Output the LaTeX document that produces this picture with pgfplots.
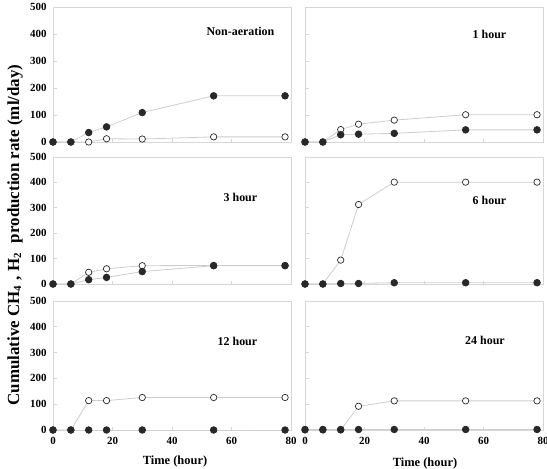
\documentclass[border=0pt]{standalone}
\usepackage{fontspec}
\setmainfont{Liberation Serif}
\usepackage{pgfplots}
\pgfplotsset{compat=1.18}

\definecolor{linegray}{RGB}{205,205,205}
\definecolor{framegray}{RGB}{215,215,215}
\definecolor{markdark}{RGB}{40,40,40}

\pgfplotsset{
  panel/.style={
    scale only axis,
    width=238bp,
    xmin=0, xmax=80, ymin=0, ymax=500,
    xtick={0,20,40,60,80},
    ytick={0,100,200,300,400,500},
    axis line style={framegray, line width=0.8bp},
    tick style={framegray, line width=0.8bp},
    tick align=inside,
    major tick length=3.5bp,
    xtick pos=bottom, ytick pos=left,
    clip=false,
    /pgf/number format/assume math mode=true,
    tick label style={font=\fontsize{11}{12}\selectfont\bfseries, black},
    yticklabel style={xshift=-3bp},
    xticklabel style={yshift=-4bp},
    xticklabels={}, yticklabels={},
  },
  ylabels/.style={yticklabels={0,100,200,300,400,500}},
  xlabels/.style={xticklabels={0,20,40,60,80}},
  openser/.style={color=linegray, line width=0.8bp, mark=*, mark size=3.2bp,
    mark options={draw=markdark, fill=white, line width=0.7bp}},
  fillser/.style={color=linegray, line width=0.8bp, mark=*, mark size=3.3bp,
    mark options={draw=markdark, fill=markdark}},
}
\newcommand{\paneltitle}[3]{\node[font=\fontsize{12}{14}\selectfont\bfseries] at (axis cs:#1,#2) {#3};}

\begin{document}
\begin{tikzpicture}
\useasboundingbox (0bp,0bp) rectangle (547bp,-469bp);

% Non-aeration
\begin{axis}[panel, ylabels, height=135bp, at={(53bp,-142bp)}, anchor=south west]
\addplot[openser] coordinates {(0,0) (6,0) (12,0) (18,12) (30,11) (54,19) (78,19)};
\addplot[fillser] coordinates {(0,0) (6,0) (12,35) (18,56) (30,109) (54,171) (78,171)};
\paneltitle{63}{410}{Non-aeration}
\end{axis}

% 1 hour
\begin{axis}[panel, height=135bp, at={(305bp,-142bp)}, anchor=south west]
\addplot[openser] coordinates {(0,0) (6,0) (12,46) (18,66) (30,81) (54,101) (78,101)};
\addplot[fillser] coordinates {(0,0) (6,0) (12,27) (18,29) (30,32) (54,45) (78,45)};
\paneltitle{62}{400}{1 hour}
\end{axis}

% 3 hour
\begin{axis}[panel, ylabels, height=127bp, at={(53bp,-284bp)}, anchor=south west]
\addplot[openser] coordinates {(0,0) (6,0) (12,46) (18,60) (30,72) (54,73) (78,73)};
\addplot[fillser] coordinates {(0,0) (6,0) (12,17) (18,26) (30,49) (54,72) (78,72)};
\paneltitle{63}{342}{3 hour}
\end{axis}

% 6 hour
\begin{axis}[panel, height=127bp, at={(305bp,-284bp)}, anchor=south west]
\addplot[openser] coordinates {(0,0) (6,0) (12,94) (18,313) (30,401) (54,401) (78,401)};
\addplot[fillser] coordinates {(0,0) (6,0) (12,2) (18,2) (30,5) (54,5) (78,5)};
\paneltitle{62}{330}{6 hour}
\end{axis}

% 12 hour
\begin{axis}[panel, ylabels, xlabels, height=129bp, at={(53bp,-430bp)}, anchor=south west]
\addplot[openser] coordinates {(0,0) (6,0) (12,114) (18,114) (30,126) (54,126) (78,126)};
\addplot[fillser] coordinates {(0,0) (6,0) (12,0) (18,0) (30,0) (54,0) (78,0)};
\paneltitle{62}{345}{12 hour}
\end{axis}

% 24 hour
\begin{axis}[panel, xlabels, height=129bp, at={(305bp,-430bp)}, anchor=south west]
\addplot[openser] coordinates {(0,0) (6,0) (12,0) (18,92) (30,113) (54,113) (78,113)};
\addplot[fillser] coordinates {(0,2) (6,2) (12,2) (18,2) (30,2) (54,2) (78,2)};
\paneltitle{60.5}{349}{24 hour}
\end{axis}

% shared labels
\node[rotate=90, font=\fontsize{17}{19}\selectfont\bfseries] at (15bp,-235bp)
  {Cumulative CH{\fontsize{11}{12}\selectfont\raisebox{-2pt}{4}}\,\,, H{\fontsize{11}{12}\selectfont\raisebox{-2pt}{2}}\,\, production rate (ml/day)};
\node[font=\fontsize{12.5}{14}\selectfont\bfseries] at (175bp,-461bp) {Time (hour)};
\node[font=\fontsize{12.5}{14}\selectfont\bfseries] at (425bp,-463bp) {Time (hour)};
\end{tikzpicture}
\end{document}
